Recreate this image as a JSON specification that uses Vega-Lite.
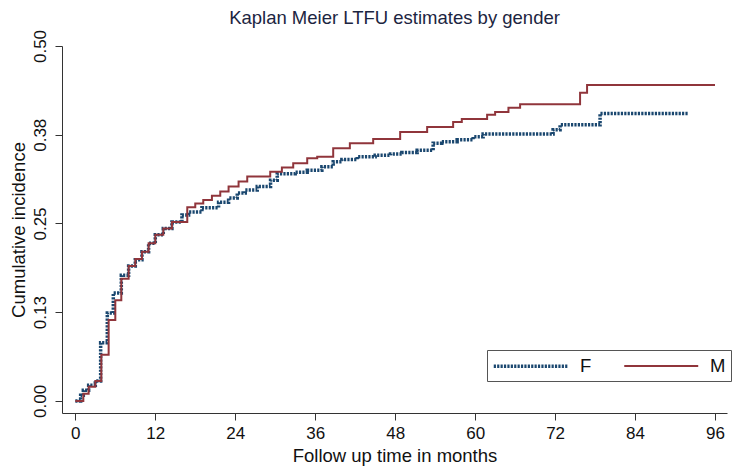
{
  "$schema": "https://vega.github.io/schema/vega-lite/v6.json",
  "width": 665,
  "height": 367,
  "autosize": {"type": "none"},
  "padding": {"left": 62, "top": 46, "right": 11, "bottom": 60},
  "background": "white",
  "title": {"text": "Kaplan Meier LTFU estimates  by gender", "font": "Liberation Sans", "fontSize": 18.5, "fontWeight": "normal", "color": "#1c2541", "offset": 2, "anchor": "middle"},
  "data": {"values": [
    {"t": 0, "v": 0, "g": "F"}, {"t": 0.8, "v": 0.008, "g": "F"}, {"t": 1.2, "v": 0.015, "g": "F"}, {"t": 2, "v": 0.022, "g": "F"}, {"t": 3, "v": 0.028, "g": "F"}, {"t": 3.8, "v": 0.082, "g": "F"}, {"t": 4.8, "v": 0.124, "g": "F"}, {"t": 5.7, "v": 0.152, "g": "F"}, {"t": 6.9, "v": 0.177, "g": "F"}, {"t": 8, "v": 0.19, "g": "F"}, {"t": 9, "v": 0.199, "g": "F"}, {"t": 10, "v": 0.21, "g": "F"}, {"t": 11, "v": 0.222, "g": "F"}, {"t": 12, "v": 0.234, "g": "F"}, {"t": 13.2, "v": 0.243, "g": "F"}, {"t": 14.5, "v": 0.252, "g": "F"}, {"t": 16, "v": 0.262, "g": "F"}, {"t": 17, "v": 0.266, "g": "F"}, {"t": 19, "v": 0.272, "g": "F"}, {"t": 21.5, "v": 0.28, "g": "F"}, {"t": 23, "v": 0.286, "g": "F"}, {"t": 24.3, "v": 0.293, "g": "F"}, {"t": 25.5, "v": 0.297, "g": "F"}, {"t": 27.3, "v": 0.302, "g": "F"}, {"t": 29.3, "v": 0.311, "g": "F"}, {"t": 30.3, "v": 0.32, "g": "F"}, {"t": 33, "v": 0.322, "g": "F"}, {"t": 34.8, "v": 0.325, "g": "F"}, {"t": 37, "v": 0.33, "g": "F"}, {"t": 38.7, "v": 0.337, "g": "F"}, {"t": 40, "v": 0.34, "g": "F"}, {"t": 42.3, "v": 0.344, "g": "F"}, {"t": 45, "v": 0.346, "g": "F"}, {"t": 47.3, "v": 0.348, "g": "F"}, {"t": 49, "v": 0.35, "g": "F"}, {"t": 51.3, "v": 0.353, "g": "F"}, {"t": 53.7, "v": 0.363, "g": "F"}, {"t": 55, "v": 0.365, "g": "F"}, {"t": 57.3, "v": 0.368, "g": "F"}, {"t": 59.7, "v": 0.372, "g": "F"}, {"t": 61.2, "v": 0.376, "g": "F"}, {"t": 71.7, "v": 0.382, "g": "F"}, {"t": 72.75, "v": 0.389, "g": "F"}, {"t": 78.75, "v": 0.405, "g": "F"}, {"t": 92, "v": 0.405, "g": "F"},
    {"t": 0, "v": 0, "g": "M"}, {"t": 1.2, "v": 0.01, "g": "M"}, {"t": 2, "v": 0.02, "g": "M"}, {"t": 3, "v": 0.028, "g": "M"}, {"t": 3.9, "v": 0.065, "g": "M"}, {"t": 5, "v": 0.114, "g": "M"}, {"t": 6, "v": 0.142, "g": "M"}, {"t": 6.9, "v": 0.172, "g": "M"}, {"t": 8, "v": 0.19, "g": "M"}, {"t": 9, "v": 0.2, "g": "M"}, {"t": 10, "v": 0.21, "g": "M"}, {"t": 11, "v": 0.222, "g": "M"}, {"t": 12, "v": 0.234, "g": "M"}, {"t": 13.2, "v": 0.243, "g": "M"}, {"t": 14.5, "v": 0.252, "g": "M"}, {"t": 16.8, "v": 0.273, "g": "M"}, {"t": 18, "v": 0.278, "g": "M"}, {"t": 19.2, "v": 0.283, "g": "M"}, {"t": 20.5, "v": 0.289, "g": "M"}, {"t": 21.75, "v": 0.295, "g": "M"}, {"t": 23, "v": 0.302, "g": "M"}, {"t": 24.5, "v": 0.309, "g": "M"}, {"t": 25.8, "v": 0.316, "g": "M"}, {"t": 29.25, "v": 0.323, "g": "M"}, {"t": 31, "v": 0.329, "g": "M"}, {"t": 32.7, "v": 0.335, "g": "M"}, {"t": 34.8, "v": 0.342, "g": "M"}, {"t": 36.3, "v": 0.344, "g": "M"}, {"t": 38.7, "v": 0.356, "g": "M"}, {"t": 41.2, "v": 0.363, "g": "M"}, {"t": 44.7, "v": 0.369, "g": "M"}, {"t": 48.75, "v": 0.379, "g": "M"}, {"t": 52.8, "v": 0.386, "g": "M"}, {"t": 56.7, "v": 0.393, "g": "M"}, {"t": 58, "v": 0.397, "g": "M"}, {"t": 61.8, "v": 0.403, "g": "M"}, {"t": 63, "v": 0.407, "g": "M"}, {"t": 65, "v": 0.413, "g": "M"}, {"t": 66.75, "v": 0.418, "g": "M"}, {"t": 75.75, "v": 0.434, "g": "M"}, {"t": 76.8, "v": 0.445, "g": "M"}, {"t": 96, "v": 0.445, "g": "M"}
  ]},
  "mark": {"type": "line", "interpolate": "step-after", "strokeCap": "butt"},
  "encoding": {
    "x": {"field": "t", "type": "quantitative", "scale": {"domain": [-2, 97.8], "nice": false, "zero": false},
      "axis": {"values": [0, 12, 24, 36, 48, 60, 72, 84, 96], "title": "Follow up time in months", "grid": false, "tickSize": 7, "labelPadding": 5, "titlePadding": 5, "labelFont": "Liberation Sans", "titleFont": "Liberation Sans", "labelFontSize": 17, "titleFontSize": 18.5, "titleFontWeight": "normal", "labelColor": "#111", "titleColor": "#111", "domainColor": "#333", "tickColor": "#333", "labelFlush": false}},
    "y": {"field": "v", "type": "quantitative", "scale": {"domain": [-0.017, 0.5], "nice": false, "zero": false},
      "axis": {"values": [0, 0.125, 0.25, 0.375, 0.5], "format": ".2f", "title": "Cumulative incidence", "grid": false, "tickSize": 7, "labelAngle": -90, "labelAlign": "center", "labelBaseline": "bottom", "labelPadding": 6, "titlePadding": 3, "labelFont": "Liberation Sans", "titleFont": "Liberation Sans", "labelFontSize": 17, "titleFontSize": 18.5, "titleFontWeight": "normal", "labelColor": "#111", "titleColor": "#111", "domainColor": "#333", "tickColor": "#333", "labelFlush": false}},
    "color": {"field": "g", "type": "nominal", "scale": {"domain": ["F", "M"], "range": ["#1a476f", "#90353b"]},
      "legend": {"title": null, "orient": "none", "legendX": 425, "legendY": 304, "direction": "horizontal", "symbolType": "M-1,0H7", "symbolSize": 342, "symbolStrokeWidth": 3, "labelFont": "Liberation Sans", "labelFontSize": 18.5, "labelColor": "#111", "labelOffset": 66, "columnPadding": 28, "padding": 5, "strokeColor": "#555", "fillColor": "white"}},
    "strokeDash": {"field": "g", "type": "nominal", "scale": {"domain": ["F", "M"], "range": [[2.2, 1.2], [1, 0]]}, "legend": {"title": null}},
    "strokeWidth": {"field": "g", "type": "nominal", "scale": {"domain": ["F", "M"], "range": [3.5, 2]}, "legend": {"title": null}}
  },
  "config": {"view": {"stroke": null}}
}
